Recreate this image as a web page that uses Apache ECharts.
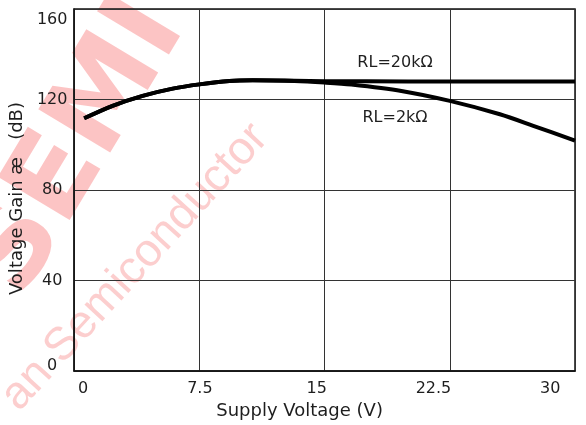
<!DOCTYPE html>
<html>
<head>
<meta charset="utf-8">
<script src="https://cdn.jsdelivr.net/npm/echarts@6/dist/echarts.min.js"></script>
<style>
  html, body { margin: 0; padding: 0; background: #fff; }
  #chart { width: 586px; height: 425px; }
</style>
</head>
<body>
<div id="chart"></div>
<script>
/* ── 数据 ── */
const xTicks = [0, 7.5, 15, 22.5, 30];
const yTicks = [0, 40, 80, 120, 160];

// RL = 2kΩ
const vSupply2k = [0.6, 2.3, 4.1, 5.9, 7.5, 9.3, 10.7, 13.2, 15, 16.6, 19.6, 22.5, 25.5, 27.5, 30];
const gain2k    = [111.7, 117.2, 121.6, 124.8, 126.7, 128.2, 128.5, 128.2, 127.5, 126.6, 123.8, 119.4, 113.5, 108.4, 101.8];

// RL = 20kΩ
const vSupply20k = [0.6, 2.3, 4.1, 5.9, 7.5, 9.3, 10.7, 13.2, 15, 20, 25, 30];
const gain20k    = [111.7, 117.2, 121.6, 124.8, 126.7, 128.2, 128.5, 128.3, 128.1, 128, 128, 128];

const seriesNames = ['RL=20kΩ', 'RL=2kΩ'];

const font = '"DejaVu Sans", "Liberation Sans", sans-serif';
const ink = '#1e1e1e';

const chart = echarts.init(document.getElementById('chart'));

chart.setOption({
  animation: false,
  grid: {
    left: 71, top: 9, right: 11, bottom: 52,
    show: true, borderColor: '#111', borderWidth: 1.5,
  },
  xAxis: [
    {
      // 数据轴（网格线）
      type: 'value', min: 0, max: 30, interval: 7.5,
      axisLine: { show: true, lineStyle: { color: '#111', width: 1.5 } },
      axisTick: { show: false },
      axisLabel: { show: false },
      splitLine: { show: true, lineStyle: { color: '#333', width: 1 } },
    },
    {
      // 刻度文字（原图的数字略向内偏移）
      type: 'value', min: -0.574, max: 31.59, position: 'bottom',
      axisLine: { show: false },
      axisTick: { show: false },
      splitLine: { show: false },
      axisLabel: {
        customValues: xTicks, margin: 10,
        fontFamily: font, fontSize: 16, color: ink,
      },
      name: 'Supply Voltage (V)', nameLocation: 'middle', nameGap: 27,
      nameTextStyle: { fontFamily: font, fontSize: 18, color: ink, padding: [0, 50, 0, 0] },
    },
  ],
  yAxis: {
    type: 'value', min: 0, max: 160, interval: 40,
    axisLine: { show: true, lineStyle: { color: '#111', width: 1.5 } },
    axisTick: { show: false },
    splitLine: { show: true, lineStyle: { color: '#333', width: 1 } },
    axisLabel: {
      customValues: yTicks, margin: 22, align: 'center',
      fontFamily: font, fontSize: 16, color: ink,
      formatter: v => v === 160 ? '{t|160}' : v === 0 ? '{b|0}' : String(v),
      rich: {
        t: { fontFamily: font, fontSize: 16, color: ink, padding: [22, 0, 0, 0] },
        b: { fontFamily: font, fontSize: 16, color: ink, padding: [0, 0, 10, 0] },
      },
    },
    name: 'Voltage Gain æ   (dB)', nameLocation: 'middle', nameGap: 35,
    nameTextStyle: { fontFamily: font, fontSize: 18, color: ink, padding: [0, 17, 0, 0] },
  },
  series: [
    {
      name: seriesNames[0], type: 'line', xAxisIndex: 0,
      data: vSupply20k.map((v, i) => [v, gain20k[i]]),
      smooth: 0.3, showSymbol: false,
      lineStyle: { color: '#000', width: 4 },
    },
    {
      name: seriesNames[1], type: 'line', xAxisIndex: 0,
      data: vSupply2k.map((v, i) => [v, gain2k[i]]),
      smooth: 0.3, showSymbol: false,
      lineStyle: { color: '#000', width: 4 },
    },
  ],
  graphic: [
    // ── 水印 ──
    {
      type: 'text', x: 78, y: 148, rotation: 59 * Math.PI / 180, z: -10, silent: true,
      style: {
        text: 'SEMI', font: 'bold 115px "DejaVu Sans"',
        fill: 'rgba(245,60,60,0.3)', align: 'center', verticalAlign: 'middle',
      },
    },
    {
      type: 'text', x: 135, y: 267, rotation: 47.5 * Math.PI / 180, z: -10, silent: true,
      style: {
        text: 'an Semiconductor', font: '46px "Liberation Sans"',
        fill: 'rgba(245,60,60,0.25)', align: 'center', verticalAlign: 'middle',
      },
    },
    // ── 曲线标注 ──
    {
      type: 'text', x: 395, y: 63, z: 100,
      style: { text: seriesNames[0], font: '16px "DejaVu Sans"', fill: ink, align: 'center', verticalAlign: 'middle' },
    },
    {
      type: 'text', x: 395, y: 118, z: 100,
      style: { text: seriesNames[1], font: '16px "DejaVu Sans"', fill: ink, align: 'center', verticalAlign: 'middle' },
    },
  ],
});
</script>
</body>
</html>
